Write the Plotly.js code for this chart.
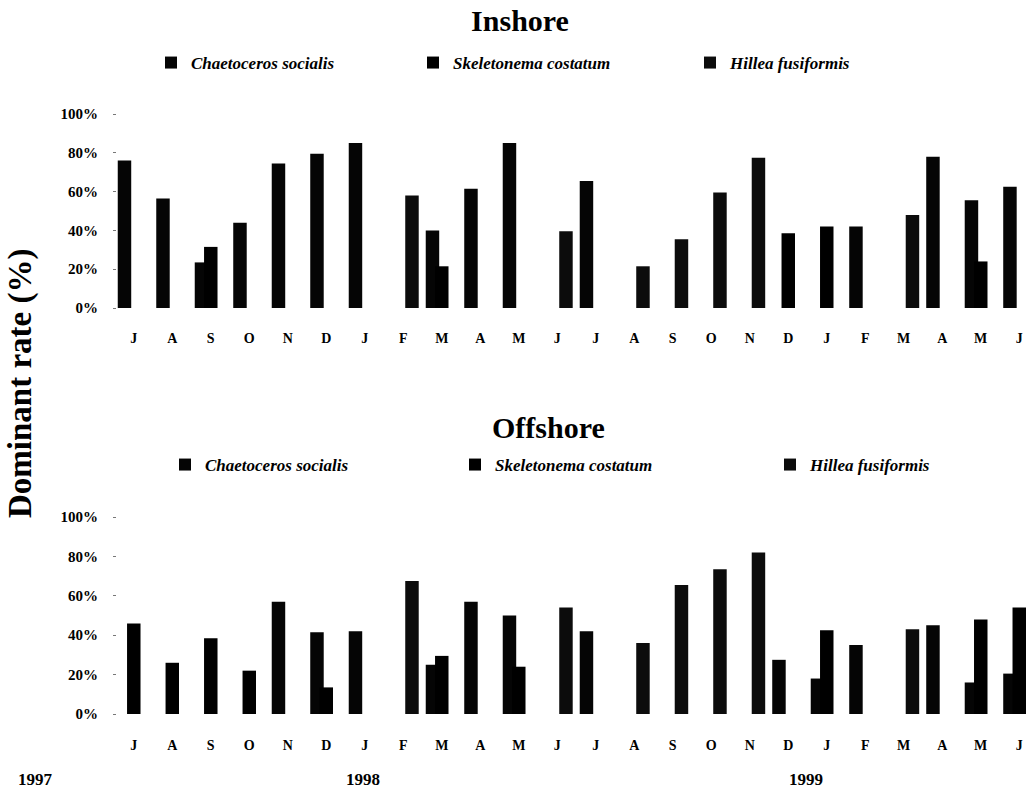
<!DOCTYPE html>
<html>
<head>
<meta charset="utf-8">
<script src="https://cdn.plot.ly/plotly-3.0.1.min.js"></script>
<style>
  html, body { margin: 0; padding: 0; background: #ffffff; }
  #chart { width: 1035px; height: 792px; }
</style>
</head>
<body>
<div id="chart"></div>
<script>
// ---- Data ----
const categories = ['1997-07','1997-08','1997-09','1997-10','1997-11','1997-12',
                    '1998-01','1998-02','1998-03','1998-04','1998-05','1998-06',
                    '1998-07','1998-08','1998-09','1998-10','1998-11','1998-12',
                    '1999-01','1999-02','1999-03','1999-04','1999-05','1999-06'];
const monthLabels = ['J','A','S','O','N','D','J','F','M','A','M','J',
                     'J','A','S','O','N','D','J','F','M','A','M','J'];
const seriesNames = ['Chaetoceros socialis', 'Skeletonema costatum', 'Hillea fusiformis'];
const yearLabels = ['1997', '1998', '1999'];
const yTicks = [0, 20, 40, 60, 80, 100];
const yTickLabels = ['0%', '20%', '40%', '60%', '80%', '100%'];

// Inshore dominant rate (%)
const inshoreChaetoceros = [76, 56.5, 23.5, 44, 74.5, 79.5, 85, null, 40, 61.5, 85, null,
                            65.5, null, null, null, null, null, null, 42, null, 78, 55.5, 62.5];
const inshoreSkeletonema = [null, null, 31.5, null, null, null, null, null, 21.5, null, null, null,
                            null, null, null, null, null, 38.5, 42, null, null, null, 24, null];
const inshoreHillea      = [null, null, null, null, null, null, null, 58, null, null, null, 39.5,
                            null, 21.5, 35.5, 59.5, 77.5, null, null, null, 48, null, null, null];

// Offshore dominant rate (%)
const offshoreChaetoceros = [null, null, null, null, 57, 41.5, 42, null, 25, 57, 50, null,
                             42, null, null, null, null, 27.5, 18, 35, null, 45, 16, 20.5];
const offshoreSkeletonema = [46, 26, 38.5, 22, null, 13.5, null, null, 29.5, null, 24, null,
                             null, null, null, null, null, null, 42.5, null, null, null, 48, 54];
const offshoreHillea      = [null, null, null, null, null, null, null, 67.5, null, null, null, 54,
                             null, 36, 65.5, 73.5, 82, null, null, null, 43, null, null, null];

// ---- Styling / layout constants ----
const W = 1035, H = 792, ML = 117, MR = 5;
const PW = W - ML - MR;
const px = v => (v - ML) / PW;          // pixel x -> paper x
const py = v => 1 - v / H;              // pixel y -> paper y
const slotOffsets = [-0.4156, -0.174, 0.052];
const barWidth = 0.35;
const barColors = ['#050505', '#000000', '#0c0c0c'];
const serif = 'Liberation Serif, Times New Roman, serif';

function makeTraces(values, xa, ya, legendIds) {
  return values.map((vals, k) => ({
    type: 'bar',
    name: seriesNames[k],
    x: categories,
    y: vals,
    xaxis: xa, yaxis: ya,
    offset: slotOffsets[k],
    width: barWidth,
    marker: { color: barColors[k], line: { width: 0 } },
    legend: legendIds[k],
    showlegend: true,
    hoverinfo: 'x+y+name'
  }));
}

const traces = [
  ...makeTraces([inshoreChaetoceros, inshoreSkeletonema, inshoreHillea], 'x', 'y',
                ['legend', 'legend2', 'legend3']),
  ...makeTraces([offshoreChaetoceros, offshoreSkeletonema, offshoreHillea], 'x2', 'y2',
                ['legend4', 'legend5', 'legend6'])
];

const xAxisBase = {
  type: 'category',
  range: [-0.435, 23.28],
  tickvals: categories,
  ticktext: monthLabels,
  showline: false, showgrid: false, zeroline: false,
  ticks: '',
  tickfont: { family: serif, size: 14, color: '#000', weight: 'bold' },
  automargin: false,
  fixedrange: true
};
const yAxisBase = {
  range: [0, 100],
  tickmode: 'array',
  tickvals: yTicks,
  ticktext: yTickLabels,
  showline: false, showgrid: false, zeroline: false,
  ticks: 'outside', ticklen: 3, tickwidth: 1, tickcolor: '#777',
  ticklabelstandoff: 12,
  tickfont: { family: serif, size: 15, color: '#000', weight: 'bold' },
  automargin: false,
  fixedrange: true
};

function legendAt(xPix, yPix) {
  return {
    x: px(xPix), y: py(yPix), xref: 'paper', yref: 'paper',
    xanchor: 'left', yanchor: 'middle',
    orientation: 'h', bgcolor: 'rgba(0,0,0,0)', borderwidth: 0,
    itemwidth: 30, itemclick: false, itemdoubleclick: false,
    font: { family: serif, size: 17, color: '#000', style: 'italic', weight: 'bold' }
  };
}

const layout = {
  width: W, height: H,
  margin: { l: ML, r: MR, t: 0, b: 0, autoexpand: false },
  paper_bgcolor: '#ffffff', plot_bgcolor: '#ffffff',
  barmode: 'overlay',
  title: {
    text: 'Inshore',
    xref: 'paper', yref: 'container',
    x: px(520), xanchor: 'center',
    y: py(20), yanchor: 'middle',
    font: { family: serif, size: 30, color: '#000', weight: 'bold' }
  },
  xaxis:  Object.assign({}, xAxisBase, { domain: [0, 1], anchor: 'y', ticklabelstandoff: 20 }),
  xaxis2: Object.assign({}, xAxisBase, { domain: [0, 1], anchor: 'y2', ticklabelstandoff: 21 }),
  yaxis:  Object.assign({}, yAxisBase, { domain: [py(308), py(114)], anchor: 'x' }),
  yaxis2: Object.assign({}, yAxisBase, { domain: [py(714), py(517)], anchor: 'x2' }),
  legend:  legendAt(151, 63),
  legend2: legendAt(413, 63),
  legend3: legendAt(690, 63),
  legend4: legendAt(165, 465),
  legend5: legendAt(455, 465),
  legend6: legendAt(770, 465),
  annotations: [
    { text: 'Offshore', xref: 'paper', yref: 'paper', x: px(548), y: py(427),
      xanchor: 'center', yanchor: 'middle', showarrow: false,
      font: { family: serif, size: 30, color: '#000', weight: 'bold' } },
    { text: 'Dominant rate (%)', xref: 'paper', yref: 'paper', x: px(20), y: py(384),
      xanchor: 'center', yanchor: 'middle', textangle: -90, showarrow: false,
      font: { family: serif, size: 33, color: '#000', weight: 'bold' } },
    { text: yearLabels[0], xref: 'paper', yref: 'paper', x: px(35), y: py(779),
      xanchor: 'center', yanchor: 'middle', showarrow: false,
      font: { family: serif, size: 17, color: '#000', weight: 'bold' } },
    { text: yearLabels[1], xref: 'paper', yref: 'paper', x: px(363), y: py(779),
      xanchor: 'center', yanchor: 'middle', showarrow: false,
      font: { family: serif, size: 17, color: '#000', weight: 'bold' } },
    { text: yearLabels[2], xref: 'paper', yref: 'paper', x: px(806), y: py(779),
      xanchor: 'center', yanchor: 'middle', showarrow: false,
      font: { family: serif, size: 17, color: '#000', weight: 'bold' } }
  ],
  showlegend: true
};

Plotly.newPlot('chart', traces, layout, { displayModeBar: false, staticPlot: true });
</script>
</body>
</html>
